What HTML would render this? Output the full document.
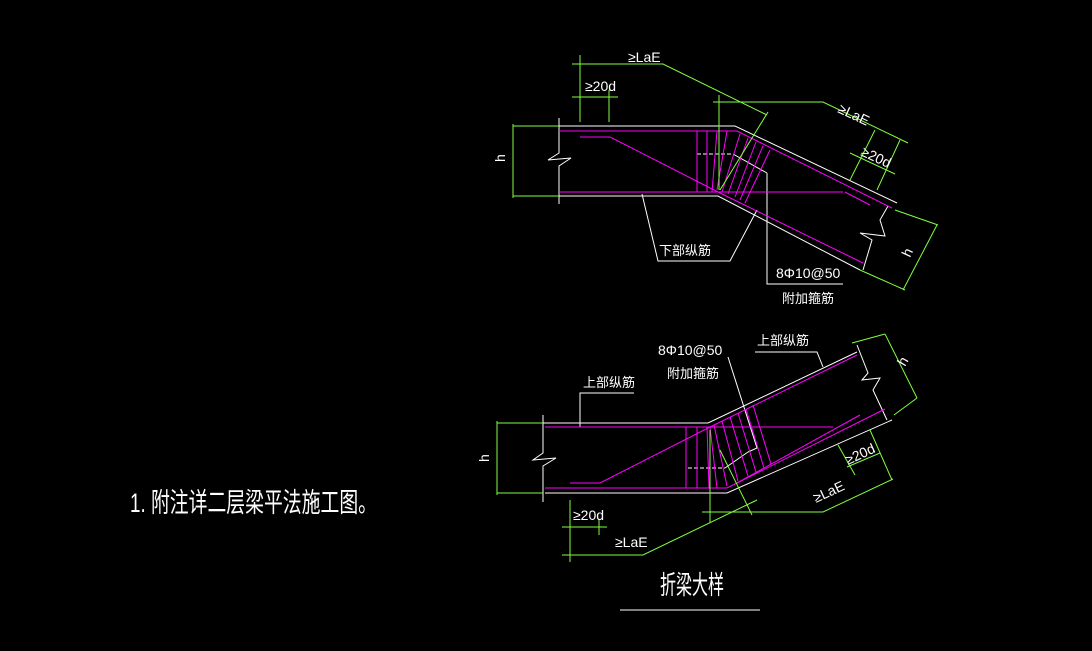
<!DOCTYPE html>
<html><head><meta charset="utf-8"><style>
html,body{margin:0;padding:0;background:#000;}
svg{display:block;}
text{font-family:"Liberation Sans","Noto Sans CJK SC",sans-serif;fill:#fff;}
</style></head><body>
<svg width="1092" height="651" viewBox="0 0 1092 651" xmlns="http://www.w3.org/2000/svg">
<rect width="1092" height="651" fill="#000"/>
<g fill="none" stroke-width="1">
<g stroke="#fff">
<polyline points="559,126 735,126 897,203"/>
<polyline points="559,196 718,196 860,270"/>
<polyline points="559,118 559,153 548,160 571,158 559,166 559,204"/>
<polyline points="863,270 872,240 860,233 885,236 880,220 888,206"/>
<polyline points="642,194 658,261 730,261 757,210"/>
<polyline points="767,173 767,284 843,284"/>
<line x1="697" y1="154" x2="733" y2="154" stroke-dasharray="4,2"/>
<line x1="733" y1="154" x2="767" y2="173"/>
</g>
<g stroke="#ff00ff">
<polyline points="559,131 737,131 892,208"/>
<line x1="559" y1="192" x2="843" y2="192"/>
<polyline points="718,192 863,263"/>
<polyline points="580,137 610,137 718,192"/>
<line x1="845" y1="192" x2="870" y2="205"/>
<line x1="697" y1="131" x2="697" y2="192"/>
<line x1="707" y1="131" x2="707" y2="192"/>
<line x1="717" y1="131" x2="712" y2="192"/>
<line x1="727" y1="131" x2="717" y2="190"/>
<line x1="740" y1="134" x2="722" y2="192"/>
<line x1="748" y1="138" x2="728" y2="194"/>
<line x1="756" y1="142" x2="735" y2="197"/>
<line x1="763" y1="146" x2="740" y2="200"/>
<line x1="770" y1="150" x2="745" y2="203"/>
</g>
<g stroke="#80ff40">
<line x1="513" y1="126" x2="559" y2="126"/>
<line x1="513" y1="196" x2="559" y2="196"/>
<line x1="513" y1="124" x2="513" y2="198"/>
<polyline points="572,64 663,64 767,115"/>
<line x1="580" y1="55" x2="580" y2="122"/>
<line x1="572" y1="97" x2="618" y2="97"/>
<line x1="609" y1="90" x2="609" y2="122"/>
<polyline points="713,102 823,102 908,143"/>
<line x1="719" y1="95" x2="719" y2="190"/>
<line x1="720" y1="190" x2="768" y2="112"/>
<line x1="850" y1="153" x2="895" y2="174"/>
<line x1="875" y1="130" x2="850" y2="180"/>
<line x1="900" y1="140" x2="877" y2="190"/>
<line x1="895" y1="210" x2="938" y2="225"/>
<line x1="860" y1="270" x2="905" y2="290"/>
<line x1="937" y1="225" x2="903" y2="290"/>
</g>
<g stroke="#fff">
<polyline points="543,423 708,423 857,352"/>
<polyline points="545,493 727,493 892,420"/>
<polyline points="543,415 543,453 533,460 556,458 543,466 543,502"/>
<polyline points="857,345 868,373 862,380 880,378 873,390 887,420"/>
<polyline points="580,427 580,393 634,393"/>
<polyline points="728,357 757,448 748,452"/>
<line x1="688" y1="468" x2="725" y2="468" stroke-dasharray="4,2"/>
<line x1="725" y1="468" x2="748" y2="452"/>
<polyline points="755,352 817,352 823,367"/>
</g>
<g stroke="#ff00ff">
<line x1="545" y1="427" x2="833" y2="427"/>
<polyline points="710,427 857,355"/>
<line x1="545" y1="488" x2="727" y2="488"/>
<polyline points="727,488 885,409"/>
<polyline points="570,483 600,483 710,427"/>
<line x1="737" y1="483" x2="860" y2="415"/>
<line x1="686" y1="427" x2="686" y2="488"/>
<line x1="697" y1="427" x2="697" y2="488"/>
<line x1="707" y1="427" x2="709" y2="488"/>
<line x1="710" y1="427" x2="717" y2="488"/>
<line x1="714" y1="425" x2="727" y2="486"/>
<line x1="722" y1="421" x2="738" y2="481"/>
<line x1="730" y1="417" x2="748" y2="476"/>
<line x1="738" y1="413" x2="756" y2="472"/>
<line x1="746" y1="409" x2="764" y2="468"/>
<line x1="753" y1="405" x2="771" y2="464"/>
</g>
<g stroke="#80ff40">
<line x1="497" y1="423" x2="543" y2="423"/>
<line x1="497" y1="493" x2="543" y2="493"/>
<line x1="497" y1="421" x2="497" y2="495"/>
<line x1="562" y1="527" x2="607" y2="527"/>
<line x1="570" y1="500" x2="570" y2="562"/>
<line x1="599" y1="520" x2="599" y2="535"/>
<polyline points="562,555 643,555 757,500"/>
<line x1="710" y1="430" x2="710" y2="523"/>
<polyline points="702,512 823,512 893,479"/>
<line x1="720" y1="450" x2="752" y2="515"/>
<line x1="847" y1="467" x2="880" y2="453"/>
<line x1="838" y1="445" x2="855" y2="475"/>
<line x1="870" y1="430" x2="892" y2="480"/>
<line x1="852" y1="343" x2="885" y2="334"/>
<line x1="885" y1="334" x2="917" y2="398"/>
<line x1="894" y1="415" x2="917" y2="398"/>
</g>
<line x1="620" y1="610" x2="760" y2="610" stroke="#fff"/>
</g>
<g font-size="14">
<text x="628" y="62">≥LaE</text>
<text x="585" y="91">≥20d</text>
<text x="837" y="112" transform="rotate(25 837 112)">≥LaE</text>
<text x="860" y="155" transform="rotate(25 860 155)">≥20d</text>
<text x="505" y="162" transform="rotate(-90 505 162)">h</text>
<text x="910" y="258" transform="rotate(-65 910 258)">h</text>
<text x="659" y="255" font-size="13">下部纵筋</text>
<text x="776" y="278" font-size="14">8Φ10@50</text>
<text x="782" y="303" font-size="13">附加箍筋</text>
<text x="658" y="355" font-size="14">8Φ10@50</text>
<text x="667" y="378" font-size="13">附加箍筋</text>
<text x="583" y="387" font-size="13">上部纵筋</text>
<text x="757" y="345" font-size="13">上部纵筋</text>
<text x="489" y="462" transform="rotate(-90 489 462)">h</text>
<text x="905" y="367" transform="rotate(-60 905 367)">h</text>
<text x="573" y="520">≥20d</text>
<text x="615" y="547">≥LaE</text>
<text x="816" y="503" transform="rotate(-25 816 503)">≥LaE</text>
<text x="848" y="465" transform="rotate(-25 848 465)">≥20d</text>
<text x="660" y="594" font-size="26" textLength="64" lengthAdjust="spacingAndGlyphs">折梁大样</text>
<text x="130" y="512" font-size="27" fill="#e8e8e8" textLength="247" lengthAdjust="spacingAndGlyphs">1. 附注详二层梁平法施工图。</text>
</g>
</svg>
</body></html>
